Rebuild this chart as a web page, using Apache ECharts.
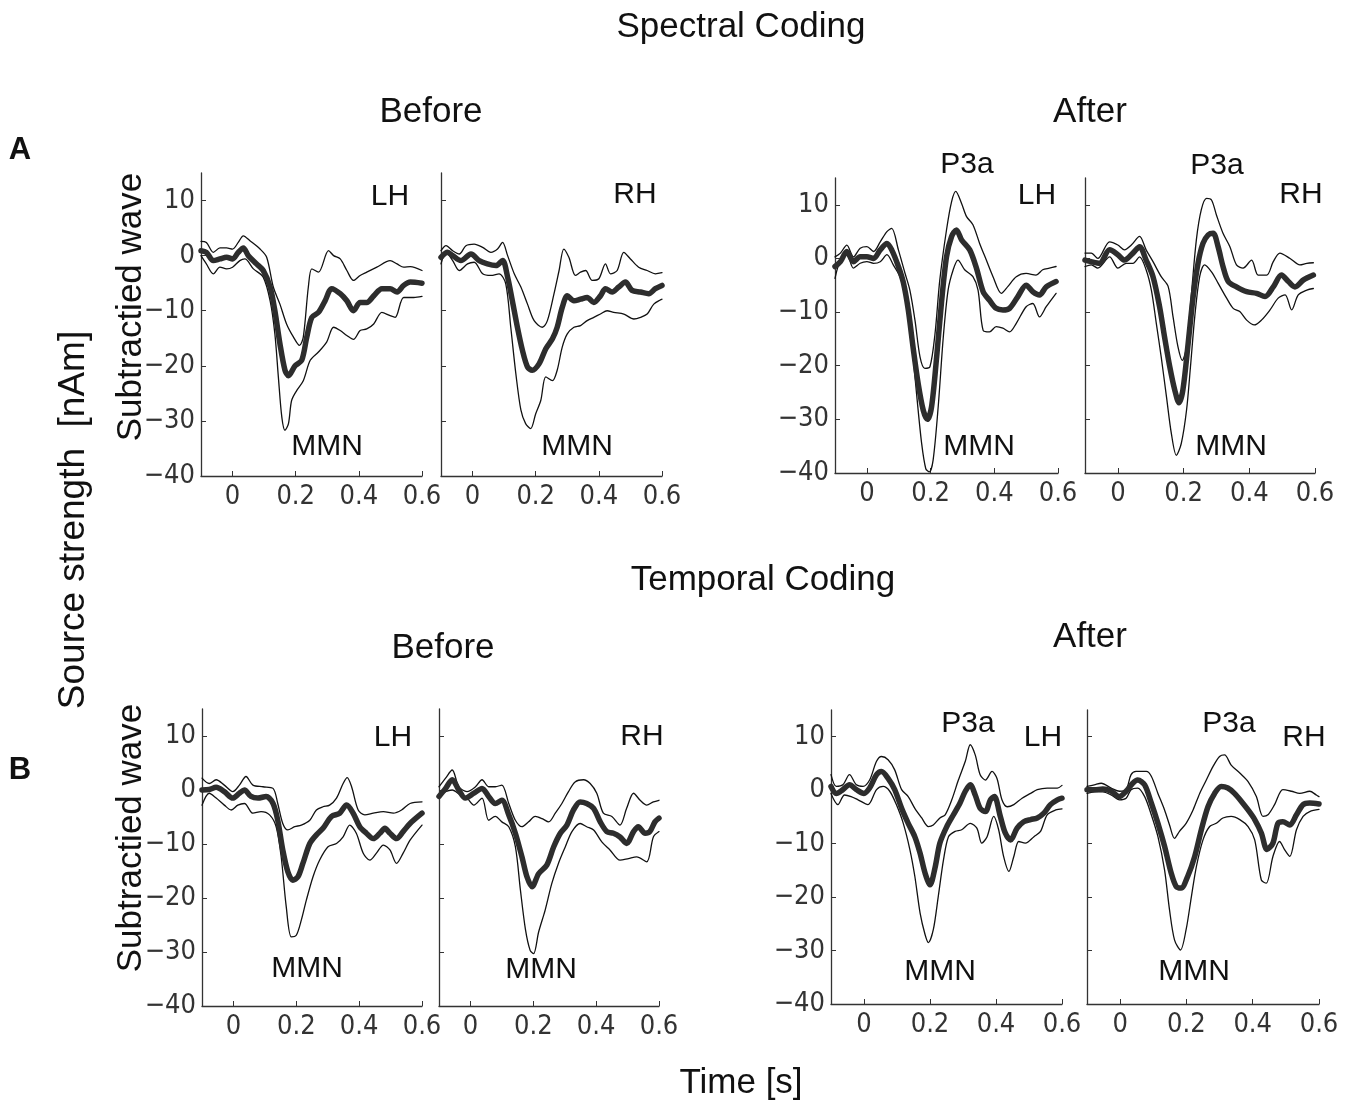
<!DOCTYPE html>
<html>
<head>
<meta charset="utf-8">
<script src="https://cdn.jsdelivr.net/npm/echarts@6/dist/echarts.min.js"></script>
<style>
html,body{margin:0;padding:0;background:#fff;}
#chart{width:1346px;height:1103px;}
</style>
</head>
<body>
<div id="chart"></div>
<script>
// ---------- Data: [time (s), source strength (nAm)] ----------
// Spectral coding, Before, LH
const aBefLH_mean = [[-0.1,0.9],[-0.083,0.6],[-0.061,-0.9],[-0.04,-0.6],[-0.019,-0.3],[0,-0.6],[0.018,0.6],[0.034,1.4],[0.05,0],[0.076,-1.5],[0.097,-2.7],[0.119,-5.7],[0.134,-10],[0.15,-16],[0.166,-20.8],[0.177,-21.8],[0.198,-20],[0.219,-19],[0.235,-14.8],[0.251,-11.2],[0.272,-10.3],[0.293,-8.2],[0.314,-6],[0.341,-6.9],[0.362,-8.2],[0.383,-10],[0.404,-8.5],[0.425,-8.5],[0.447,-7.3],[0.473,-6],[0.499,-6],[0.521,-6.6],[0.542,-5.4],[0.563,-4.8],[0.6,-5]];
const aBefLH_up = [[-0.1,2.6],[-0.083,2.4],[-0.061,0.6],[-0.04,1.4],[-0.019,1.4],[0,1.2],[0.018,2.4],[0.034,3.6],[0.055,2.7],[0.087,1.2],[0.108,-0.3],[0.129,-5.7],[0.15,-8.8],[0.171,-12.4],[0.193,-14.8],[0.212,-16.3],[0.224,-14.8],[0.24,-5.7],[0.251,-2.4],[0.272,-3],[0.304,0.9],[0.32,0],[0.341,-0.6],[0.362,-2.7],[0.383,-4.5],[0.404,-3.6],[0.425,-3],[0.457,-2.1],[0.499,-0.9],[0.521,-1.5],[0.542,-2.1],[0.563,-2],[0.6,-2.7]];
const aBefLH_lo = [[-0.1,0],[-0.083,-1.5],[-0.061,-3.3],[-0.04,-2.1],[-0.019,-2.4],[0,-2.1],[0.023,-0.9],[0.039,-0.6],[0.066,-2.4],[0.097,-3.9],[0.119,-8.2],[0.134,-14.2],[0.145,-22],[0.156,-29.3],[0.166,-31.7],[0.177,-30.5],[0.187,-26.3],[0.203,-24.5],[0.224,-22.7],[0.246,-19],[0.272,-17.5],[0.298,-15.7],[0.32,-13],[0.341,-13.6],[0.362,-14.5],[0.383,-15.2],[0.404,-13.6],[0.425,-13.3],[0.447,-12.4],[0.473,-10.3],[0.499,-10.9],[0.515,-11.2],[0.542,-7.6],[0.574,-7.6],[0.6,-7.4]];
// Spectral coding, Before, RH
const aBefRH_mean = [[-0.1,-0.3],[-0.079,0.6],[-0.063,0],[-0.037,-0.9],[-0.005,0.3],[0.021,-0.9],[0.047,-1.5],[0.074,-1.8],[0.095,-0.9],[0.111,-3.9],[0.126,-8.2],[0.142,-13],[0.158,-17.2],[0.174,-20.2],[0.189,-20.8],[0.211,-19.6],[0.232,-16.9],[0.253,-15.1],[0.268,-13],[0.284,-9.4],[0.3,-7.3],[0.321,-8.2],[0.342,-7.9],[0.363,-7.6],[0.384,-8.5],[0.405,-7.3],[0.421,-6],[0.442,-6.6],[0.463,-5.7],[0.484,-4.8],[0.505,-6.3],[0.532,-6.6],[0.558,-6.9],[0.579,-6],[0.6,-5.4]];
const aBefRH_up = [[-0.1,0.9],[-0.084,1.8],[-0.063,0.9],[-0.042,0.3],[-0.021,1.8],[0.005,2.1],[0.032,1.5],[0.058,0.6],[0.079,1.2],[0.095,2.4],[0.111,0],[0.132,-3.3],[0.153,-5.7],[0.174,-8.8],[0.195,-11.8],[0.221,-13],[0.237,-11.8],[0.258,-6.9],[0.274,-2.7],[0.289,1.2],[0.305,-0.3],[0.326,-3.6],[0.342,-3],[0.358,-2.7],[0.379,-4.5],[0.4,-4.2],[0.421,-1.5],[0.437,-3.3],[0.458,-2.7],[0.479,0.6],[0.5,-0.6],[0.526,-2.1],[0.553,-2.7],[0.579,-3.3],[0.6,-3.1]];
const aBefRH_lo = [[-0.1,-1.5],[-0.084,0.6],[-0.063,-0.9],[-0.042,-2.7],[-0.016,-1.5],[0.005,-1.2],[0.032,-3.3],[0.058,-3.6],[0.084,-3.3],[0.105,-5.1],[0.121,-13],[0.137,-21.4],[0.153,-28],[0.168,-30.5],[0.184,-31.4],[0.2,-28.7],[0.216,-26.3],[0.232,-22],[0.253,-22.7],[0.268,-20.8],[0.284,-16.6],[0.3,-14.2],[0.321,-13],[0.342,-12.7],[0.363,-11.8],[0.384,-11.2],[0.405,-10.6],[0.426,-10],[0.447,-10.3],[0.479,-10.6],[0.511,-11.5],[0.532,-11.2],[0.553,-10.6],[0.574,-8.8],[0.6,-7.9]];
// Spectral coding, After, LH
const aAftLH_mean = [[-0.1,-1.5],[-0.083,-0.6],[-0.063,1.3],[-0.042,-0.6],[-0.021,0.3],[0,0.3],[0.021,0],[0.042,1.6],[0.063,2.8],[0.078,1.6],[0.099,-1.5],[0.115,-4.6],[0.13,-9.6],[0.146,-17],[0.161,-23.3],[0.177,-28.3],[0.19,-30],[0.203,-27.7],[0.219,-18.4],[0.234,-8.4],[0.25,0.3],[0.266,4.1],[0.281,5.3],[0.297,3.5],[0.323,1.6],[0.344,-1.8],[0.365,-6.2],[0.385,-7.8],[0.406,-9.3],[0.427,-9.6],[0.448,-9.3],[0.474,-7.1],[0.5,-5],[0.521,-6.2],[0.542,-6.8],[0.563,-5.3],[0.594,-4.3]];
const aAftLH_up = [[-0.1,0.3],[-0.083,1],[-0.063,2.5],[-0.042,0.3],[-0.021,1.9],[0,2.2],[0.021,1.3],[0.042,3.1],[0.063,5],[0.078,5.6],[0.099,1.6],[0.12,-2.8],[0.135,-5.9],[0.151,-11.5],[0.167,-18.4],[0.182,-20.5],[0.198,-20.2],[0.214,-14],[0.229,-4],[0.25,5.3],[0.266,10.6],[0.279,12.5],[0.297,10.3],[0.313,7.8],[0.333,6.3],[0.354,2.8],[0.375,-0.3],[0.396,-3.4],[0.422,-6.5],[0.443,-5.2],[0.469,-3.4],[0.5,-2.8],[0.531,-3.1],[0.552,-2.1],[0.573,-1.8],[0.594,-1.5]];
const aAftLH_lo = [[-0.1,-3.7],[-0.083,-0.3],[-0.063,0.7],[-0.042,-1.8],[-0.021,-0.9],[0,-0.6],[0.021,-0.9],[0.042,-0.6],[0.063,0.7],[0.083,-1.2],[0.104,-3.4],[0.125,-7.7],[0.141,-15.8],[0.156,-25.2],[0.172,-34.5],[0.185,-39.2],[0.196,-39.8],[0.208,-37.6],[0.224,-27.6],[0.24,-14.6],[0.255,-5.9],[0.271,-2.1],[0.286,-0.3],[0.307,-2.1],[0.333,-3.4],[0.349,-5.9],[0.365,-13.4],[0.385,-13.7],[0.406,-12.7],[0.427,-13],[0.448,-13.7],[0.469,-12.1],[0.5,-9],[0.521,-8.4],[0.542,-10.9],[0.563,-9],[0.594,-6.5]];
// Spectral coding, After, RH
const aAftRH_mean = [[-0.1,-0.3],[-0.081,-0.6],[-0.056,-0.9],[-0.025,1.6],[0,0.7],[0.02,-0.3],[0.046,1],[0.066,2.2],[0.086,-0.3],[0.107,-3.4],[0.127,-9],[0.142,-14.6],[0.158,-20.2],[0.173,-24.5],[0.186,-26.9],[0.198,-24.5],[0.214,-15.8],[0.229,-7.2],[0.244,-0.9],[0.259,2.8],[0.275,4.4],[0.29,4.7],[0.305,2.2],[0.32,-1.5],[0.336,-4.3],[0.361,-5.3],[0.392,-6.2],[0.422,-6.5],[0.448,-7.1],[0.473,-5.3],[0.498,-3.1],[0.519,-4.3],[0.539,-5.3],[0.565,-4],[0.595,-3.1]];
const aAftRH_up = [[-0.1,1],[-0.081,1],[-0.061,0],[-0.025,3.1],[0,2.5],[0.02,1.6],[0.041,2.5],[0.066,4.1],[0.086,1.6],[0.107,-0.6],[0.132,-3.4],[0.153,-5.2],[0.168,-10.9],[0.183,-16.5],[0.196,-19],[0.209,-16.5],[0.224,-6.5],[0.239,3.5],[0.254,9.1],[0.27,11.2],[0.285,10.9],[0.3,8.1],[0.32,4.7],[0.341,2.2],[0.361,-1.2],[0.381,-1.8],[0.407,-0.3],[0.427,-3.1],[0.453,-3.1],[0.473,-0.6],[0.493,1],[0.524,0],[0.554,-1.2],[0.575,-0.9],[0.595,-0.8]];
const aAftRH_lo = [[-0.1,-1.5],[-0.081,-1.2],[-0.061,-1.8],[-0.025,0.3],[0,-1.8],[0.025,-0.9],[0.046,-0.9],[0.066,0.3],[0.086,-2.1],[0.102,-5.9],[0.117,-12.1],[0.132,-18.4],[0.148,-25.8],[0.163,-32.7],[0.178,-36.7],[0.193,-34.5],[0.209,-28.3],[0.221,-20.2],[0.234,-10.9],[0.249,-3.4],[0.264,-1.2],[0.285,-2.5],[0.305,-4.6],[0.331,-7.4],[0.351,-9.3],[0.371,-9.9],[0.392,-11.5],[0.415,-12.4],[0.437,-11.5],[0.463,-9.6],[0.488,-7.4],[0.509,-6.8],[0.529,-9.6],[0.549,-6.8],[0.575,-5.9],[0.595,-5.6]];
// Temporal coding, Before, LH
const bBefLH_mean = [[-0.1,0],[-0.077,0.1],[-0.055,0.5],[-0.029,-0.3],[-0.002,-1.5],[0.019,-0.6],[0.035,0],[0.056,-1.2],[0.078,-1.5],[0.104,-1.2],[0.126,-2.5],[0.141,-5.6],[0.157,-11.1],[0.173,-15.1],[0.189,-16.7],[0.205,-16.1],[0.221,-13.6],[0.243,-9.9],[0.264,-8.3],[0.285,-7.1],[0.312,-4.9],[0.338,-4.3],[0.36,-2.8],[0.381,-4.3],[0.402,-6.8],[0.423,-8],[0.445,-9],[0.466,-8],[0.482,-7.1],[0.498,-8],[0.519,-9],[0.54,-7.7],[0.562,-6.2],[0.6,-4.3]];
const bBefLH_up = [[-0.1,2.2],[-0.077,1.2],[-0.055,1.9],[-0.029,0.9],[-0.002,-0.3],[0.019,0.9],[0.04,2.5],[0.062,0.9],[0.094,0.6],[0.126,0.3],[0.141,-2.5],[0.157,-6.2],[0.173,-7.4],[0.195,-6.8],[0.216,-6.5],[0.243,-5.6],[0.264,-3.7],[0.285,-3.1],[0.306,-2.8],[0.328,-1.5],[0.349,1.2],[0.362,2.3],[0.376,0.6],[0.397,-3.7],[0.418,-4.6],[0.445,-4.3],[0.477,-4],[0.509,-4.3],[0.535,-3.7],[0.562,-2.5],[0.6,-2.2]];
const bBefLH_lo = [[-0.1,-2.8],[-0.077,-0.6],[-0.055,-1.5],[-0.029,-2.8],[-0.007,-3.7],[0.014,-2.8],[0.035,-2.5],[0.062,-4.3],[0.088,-4],[0.115,-4.6],[0.136,-6.8],[0.152,-12.4],[0.168,-21.6],[0.184,-27.2],[0.2,-26.9],[0.216,-24.1],[0.232,-20.4],[0.253,-16.1],[0.274,-13],[0.301,-10.5],[0.328,-9.9],[0.349,-8.7],[0.37,-6.5],[0.391,-8],[0.413,-11.7],[0.434,-13],[0.455,-11.7],[0.477,-10.2],[0.498,-11.1],[0.519,-13.6],[0.54,-11.7],[0.562,-9.3],[0.6,-6.5]];
// Temporal coding, Before, RH
const bBefRH_mean = [[-0.1,-1.2],[-0.079,0.3],[-0.058,1.9],[-0.037,0],[-0.016,-1.5],[0.011,-0.6],[0.037,0.3],[0.058,-1.2],[0.079,-2.5],[0.1,-1.9],[0.122,-4.6],[0.143,-8],[0.164,-12.4],[0.18,-16.1],[0.196,-17.9],[0.217,-15.5],[0.243,-13.9],[0.265,-10.5],[0.286,-8],[0.307,-6.5],[0.328,-3.7],[0.349,-2.2],[0.37,-2.5],[0.392,-3.4],[0.413,-5.9],[0.434,-7.7],[0.455,-8],[0.476,-8.7],[0.497,-9.9],[0.519,-7.7],[0.534,-6.8],[0.556,-8],[0.571,-7.7],[0.587,-5.9],[0.6,-5.2]];
const bBefRH_up = [[-0.1,0.6],[-0.079,2.2],[-0.058,3.7],[-0.037,0.6],[-0.011,-0.3],[0.016,0.6],[0.037,1.9],[0.058,0.6],[0.079,0.6],[0.1,0.9],[0.122,-2.5],[0.143,-5.6],[0.164,-6.8],[0.185,-5.9],[0.206,-4.9],[0.228,-5.3],[0.249,-5.9],[0.27,-4.3],[0.291,-2.5],[0.312,-0.3],[0.333,1.5],[0.36,1.9],[0.381,1.2],[0.402,-0.6],[0.423,-4.3],[0.45,-4.9],[0.476,-6.5],[0.497,-3.4],[0.519,-0.6],[0.54,-1.9],[0.561,-2.8],[0.582,-2.2],[0.6,-1.9]];
const bBefRH_lo = [[-0.1,-1.2],[-0.079,-0.3],[-0.058,0],[-0.032,-0.9],[-0.011,-1.5],[0.011,-2.8],[0.037,-1.5],[0.058,-5.6],[0.079,-4.9],[0.1,-5.9],[0.122,-6.8],[0.143,-10.5],[0.159,-18.5],[0.175,-25.8],[0.19,-29.7],[0.201,-30.3],[0.217,-26.3],[0.238,-22.2],[0.259,-17.3],[0.28,-13.6],[0.302,-10.5],[0.323,-7.7],[0.349,-6.2],[0.37,-6.8],[0.392,-7.4],[0.418,-9.6],[0.444,-11.1],[0.476,-13],[0.503,-12.7],[0.529,-12.4],[0.561,-13.3],[0.582,-8.7],[0.6,-7.7]];
// Temporal coding, After, LH
const bAftLH_mean = [[-0.1,0.7],[-0.084,-0.6],[-0.064,0.1],[-0.044,1],[-0.023,0.1],[0,-0.6],[0.017,0.4],[0.038,2.9],[0.053,3.5],[0.073,2.2],[0.093,0.1],[0.114,-3.4],[0.134,-6.2],[0.154,-8.7],[0.17,-11.8],[0.185,-15.5],[0.2,-17.7],[0.215,-14.6],[0.23,-9.9],[0.251,-6.8],[0.271,-4.6],[0.291,-2.4],[0.307,-0.2],[0.322,1],[0.337,-0.9],[0.352,-3.4],[0.368,-4],[0.383,-1.8],[0.395,-1.2],[0.413,-4.9],[0.428,-8],[0.444,-9.3],[0.464,-7.1],[0.484,-5.9],[0.505,-5.5],[0.525,-5.2],[0.545,-4.3],[0.565,-2.7],[0.586,-1.8],[0.6,-1.5]];
const bAftLH_up = [[-0.1,2.9],[-0.084,0.7],[-0.064,1],[-0.044,2.9],[-0.023,1],[-0.003,0.7],[0.017,1.9],[0.038,5.4],[0.053,6.3],[0.073,5.7],[0.093,3.8],[0.114,0.1],[0.134,-1.2],[0.154,-3.4],[0.175,-5.2],[0.195,-6.8],[0.21,-6.5],[0.23,-5.2],[0.246,-4.6],[0.266,-1.8],[0.286,1.9],[0.307,5.4],[0.322,8.5],[0.337,6.6],[0.352,2.9],[0.368,1.9],[0.388,3.5],[0.403,2.2],[0.418,-1.8],[0.434,-3.1],[0.454,-2.7],[0.479,-1.5],[0.505,-0.6],[0.525,0.1],[0.555,0.4],[0.586,0.4],[0.6,0.9]];
const bAftLH_lo = [[-0.1,-0.6],[-0.079,-2.7],[-0.059,-0.9],[-0.039,-1.2],[-0.018,-1.8],[0.012,-2.7],[0.038,0.1],[0.058,0.7],[0.078,-0.2],[0.098,-2.7],[0.119,-6.2],[0.139,-11.1],[0.154,-16.1],[0.17,-23],[0.185,-27],[0.195,-28.5],[0.21,-26.1],[0.225,-19.9],[0.241,-13],[0.256,-8.7],[0.276,-7.7],[0.296,-7.4],[0.322,-6.2],[0.342,-7.1],[0.357,-9.9],[0.373,-8.7],[0.393,-4.9],[0.408,-7.4],[0.423,-12.4],[0.439,-15.2],[0.454,-12.4],[0.469,-9.6],[0.489,-9.9],[0.515,-8.7],[0.535,-7.7],[0.555,-4.6],[0.581,-3.7],[0.6,-3.5]];
// Temporal coding, After, RH
const bAftRH_mean = [[-0.1,0.1],[-0.078,0.1],[-0.052,0.2],[-0.027,-0.2],[-0.002,-1.2],[0.018,-0.2],[0.038,1.3],[0.053,1.9],[0.074,1],[0.094,-2.4],[0.114,-6.2],[0.134,-10.5],[0.154,-15.5],[0.169,-18],[0.184,-18.3],[0.204,-16.1],[0.225,-12.4],[0.245,-7.4],[0.265,-3.1],[0.285,-0.6],[0.305,0.7],[0.325,0.4],[0.345,-0.6],[0.366,-2.1],[0.386,-3.7],[0.406,-5.5],[0.426,-8],[0.443,-11.1],[0.461,-9.9],[0.476,-6.2],[0.491,-5.9],[0.512,-6.5],[0.532,-4.6],[0.552,-2.7],[0.572,-2.4],[0.6,-2.6]];
const bAftRH_up = [[-0.1,0.7],[-0.078,1],[-0.057,1.3],[-0.027,0.4],[-0.002,-0.2],[0.018,0.1],[0.033,2.9],[0.048,3.5],[0.079,3.5],[0.094,2.6],[0.114,-0.6],[0.134,-3.7],[0.149,-6.5],[0.164,-9],[0.179,-7.7],[0.199,-6.2],[0.22,-3.7],[0.24,-0.6],[0.26,1.9],[0.28,4.4],[0.3,6.3],[0.315,6.6],[0.335,4.7],[0.361,3.2],[0.386,1.6],[0.411,-1.2],[0.431,-4.9],[0.446,-4.6],[0.466,-2.7],[0.491,0.1],[0.517,-0.2],[0.542,-0.6],[0.572,-0.2],[0.592,-0.9],[0.6,-1.2]];
const bAftRH_lo = [[-0.1,-0.6],[-0.078,-0.3],[-0.052,-0.3],[-0.027,-0.9],[-0.002,-1.8],[0.018,-1.5],[0.033,0.1],[0.053,0.4],[0.074,-1.2],[0.094,-4.6],[0.114,-8.7],[0.134,-14.9],[0.149,-22.4],[0.164,-28],[0.182,-29.9],[0.199,-26.1],[0.215,-19.9],[0.23,-14.3],[0.25,-9.3],[0.27,-6.8],[0.29,-6.2],[0.31,-5.2],[0.335,-4.9],[0.361,-5.5],[0.386,-6.8],[0.406,-9.3],[0.426,-16.8],[0.441,-17.4],[0.461,-12.4],[0.481,-9.6],[0.496,-11.1],[0.512,-12.4],[0.532,-7.4],[0.552,-4.9],[0.572,-4],[0.6,-3.6]];

// Axis ticks
const xTicks = [0, 0.2, 0.4, 0.6];
const yTicks = [-40, -30, -20, -10, 0, 10];
const xRange = [-0.1, 0.6];
const yRange = [-40, 15];

// ---------- Layout ----------
const panels = [
  {box:[201,173,221,303], yl:true,  d:[aBefLH_mean,aBefLH_up,aBefLH_lo]},
  {box:[441,173,221,303], yl:false, d:[aBefRH_mean,aBefRH_up,aBefRH_lo]},
  {box:[835,178,223,295], yl:true,  d:[aAftLH_mean,aAftLH_up,aAftLH_lo]},
  {box:[1085,178,230,295], yl:false, d:[aAftRH_mean,aAftRH_up,aAftRH_lo]},
  {box:[202,709,220,297], yl:true,  d:[bBefLH_mean,bBefLH_up,bBefLH_lo]},
  {box:[439,709,220,297], yl:false, d:[bBefRH_mean,bBefRH_up,bBefRH_lo]},
  {box:[831,710,231,294], yl:true,  d:[bAftLH_mean,bAftLH_up,bAftLH_lo]},
  {box:[1087,710,232,294], yl:false, d:[bAftRH_mean,bAftRH_up,bAftRH_lo]}
];

const tickFont = "'Liberation Sans Narrow','DejaVu Sans Condensed','Liberation Sans',sans-serif";
const mainFont = "'Liberation Sans',Arial,Helvetica,sans-serif";
const axisColor = '#333';

const grid = [], xAxis = [], yAxis = [], series = [];
panels.forEach((p, i) => {
  grid.push({left:p.box[0], top:p.box[1], width:p.box[2], height:p.box[3], containLabel:false});
  xAxis.push({
    type:'value', gridIndex:i, min:xRange[0], max:xRange[1],
    axisLine:{show:true, onZero:false, lineStyle:{color:axisColor, width:1.3}},
    axisTick:{show:true, inside:true, length:5, customValues:xTicks, lineStyle:{color:axisColor, width:1}},
    axisLabel:{show:true, customValues:xTicks, margin:7, fontFamily:tickFont, fontSize:27, color:'#333',
      formatter:v => (Math.abs(v) < 1e-9 ? '0' : v.toFixed(1))},
    splitLine:{show:false}
  });
  yAxis.push({
    type:'value', gridIndex:i, min:yRange[0], max:yRange[1],
    axisLine:{show:true, onZero:false, lineStyle:{color:axisColor, width:1.3}},
    axisTick:{show:true, inside:true, length:5, customValues:yTicks, lineStyle:{color:axisColor, width:1}},
    axisLabel:{show:p.yl, customValues:yTicks, margin:6, fontFamily:tickFont, fontSize:27, color:'#333',
      formatter:v => String(v).replace('-', '\u2212')},
    splitLine:{show:false}
  });
  const styles = [
    {width:5.5, color:'#2d2d2d', z:3},
    {width:1.3, color:'#111', z:2},
    {width:1.3, color:'#111', z:2}
  ];
  p.d.forEach((arr, k) => {
    series.push({
      type:'line', xAxisIndex:i, yAxisIndex:i, data:arr, showSymbol:false, symbol:'none',
      smooth:0.3, silent:true, z:styles[k].z,
      lineStyle:{width:styles[k].width, color:styles[k].color, cap:'round', join:'round'}
    });
  });
});

function txt(x, y, text, size, opts) {
  opts = opts || {};
  return {
    type:'text', x:x, y:y, rotation:opts.rot || 0, z:10, silent:true,
    style:{text:text, fontFamily:mainFont, fontSize:size, fontWeight:opts.bold ? 'bold' : 'normal',
      fill:'#111', textAlign:'center', textVerticalAlign:'middle'}
  };
}

const graphic = [
  txt(741, 27, 'Spectral Coding', 35),
  txt(431, 112, 'Before', 35),
  txt(1090, 112, 'After', 35),
  txt(20, 150, 'A', 31, {bold:true}),
  txt(390, 197, 'LH', 30),
  txt(635, 195, 'RH', 30),
  txt(327, 447, 'MMN', 30),
  txt(577, 447, 'MMN', 30),
  txt(967, 165, 'P3a', 30),
  txt(1037, 196, 'LH', 30),
  txt(979, 447, 'MMN', 30),
  txt(1217, 166, 'P3a', 30),
  txt(1301, 195, 'RH', 30),
  txt(1231, 447, 'MMN', 30),
  txt(131, 307, 'Subtractied wave', 35, {rot:Math.PI/2}),
  txt(74, 520, 'Source strength  [nAm]', 37, {rot:Math.PI/2}),
  txt(763, 580, 'Temporal Coding', 35),
  txt(443, 648, 'Before', 35),
  txt(1090, 637, 'After', 35),
  txt(20, 770, 'B', 31, {bold:true}),
  txt(393, 738, 'LH', 30),
  txt(642, 737, 'RH', 30),
  txt(307, 969, 'MMN', 30),
  txt(541, 970, 'MMN', 30),
  txt(968, 724, 'P3a', 30),
  txt(1043, 738, 'LH', 30),
  txt(940, 972, 'MMN', 30),
  txt(1229, 724, 'P3a', 30),
  txt(1304, 738, 'RH', 30),
  txt(1194, 972, 'MMN', 30),
  txt(131, 838, 'Subtractied wave', 35, {rot:Math.PI/2}),
  txt(741, 1083, 'Time [s]', 35)
];

const chart = echarts.init(document.getElementById('chart'), null, {renderer:'canvas'});
chart.setOption({
  animation:false,
  backgroundColor:'#fff',
  grid:grid, xAxis:xAxis, yAxis:yAxis, series:series, graphic:graphic
});
</script>
</body>
</html>
